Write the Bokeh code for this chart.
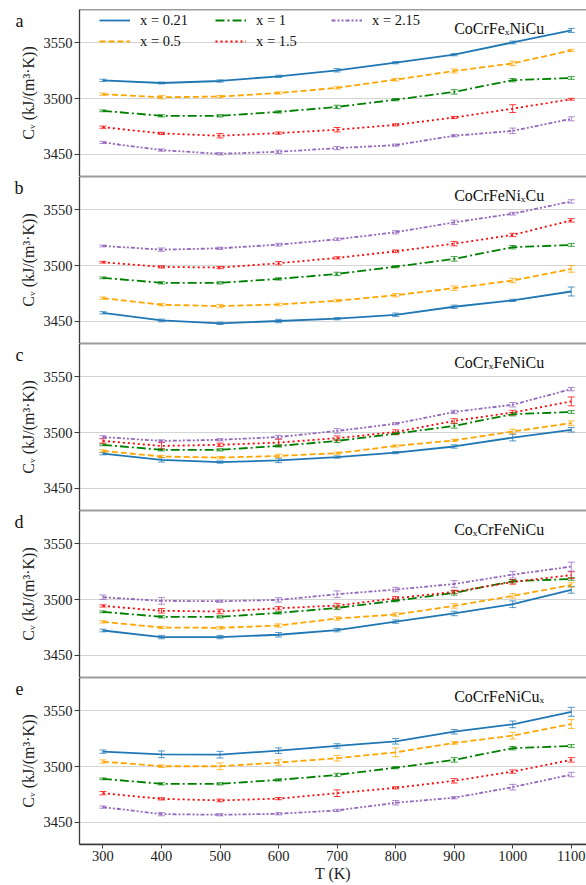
from bokeh.plotting import figure
from bokeh.models import (ColumnDataSource, Whisker, TeeHead, Legend, LegendItem,
                          Label, Range1d, FixedTicker, Span, LinearAxis)
from bokeh.layouts import column
from bokeh.embed import file_html
from bokeh.resources import INLINE

# ---------------- data ----------------
T = [300, 400, 500, 600, 700, 800, 900, 1000, 1100]
x_values = ["0.21", "0.5", "1", "1.5", "2.15"]
panel_letters = ["a", "b", "c", "d", "e"]
panel_titles = ["CoCrFeₓNiCu", "CoCrFeNiₓCu", "CoCrₓFeNiCu", "CoₓCrFeNiCu", "CoCrFeNiCuₓ"]
y_ticks = [3450, 3500, 3550]
x_ticks = [300, 400, 500, 600, 700, 800, 900, 1000, 1100]

# equimolar alloy (x = 1) is shared by every panel
cv_x1 = [3489, 3484.5, 3484.5, 3488, 3492.5, 3499, 3506, 3516.5, 3518.5]
err_x1 = [0.8, 1, 1, 1, 1.5, 1, 2, 1.5, 1.2]

# panel a: CoCrFe_xNiCu
a_cv_021 = [3516.4, 3514, 3515.8, 3520, 3525.4, 3532.2, 3539.4, 3550.4, 3561.2]
a_err_021 = [1, 0.8, 1, 1, 1.5, 1, 1, 1.2, 1.8]
a_cv_05 = [3503.9, 3501.2, 3501.8, 3505, 3509.6, 3517, 3524.8, 3531.6, 3543.3]
a_err_05 = [1, 1.5, 1, 1, 1, 1.2, 1.8, 2, 1]
a_cv_15 = [3474.3, 3468.7, 3466.6, 3469, 3472, 3476.4, 3483, 3491, 3499.4]
a_err_15 = [1, 1, 2, 1, 2, 1, 1, 3.5, 0.8]
a_cv_215 = [3460.6, 3453.7, 3450.4, 3452.2, 3455.5, 3458.2, 3466.6, 3471, 3481.8]
a_err_215 = [1, 1, 1, 1.5, 1.5, 1, 1, 2.5, 1.8]

# panel b: CoCrFeNi_xCu
b_cv_021 = [3457.6, 3450.7, 3448.1, 3450.2, 3452.3, 3455.8, 3463, 3468.7, 3476.7]
b_err_021 = [1, 1.2, 1, 1.5, 1, 1.5, 1.5, 1, 4]
b_cv_05 = [3470.7, 3464.8, 3463.6, 3465.1, 3468.4, 3473.4, 3479.7, 3486.6, 3497]
b_err_05 = [1, 1, 1.5, 1.2, 1, 1.5, 2, 2, 3]
b_cv_15 = [3503, 3498.8, 3498.2, 3502.1, 3506.9, 3512.8, 3519.7, 3527.5, 3540.6]
b_err_15 = [0.8, 1, 1, 1.5, 1, 1.2, 2, 1.5, 1.5]
b_cv_215 = [3517.6, 3514.3, 3515.5, 3518.8, 3523.6, 3529.9, 3538.8, 3546.6, 3557.6]
b_err_215 = [0.8, 1.5, 1, 1.2, 1.2, 1.5, 2, 1.2, 1.5]

# panel c: CoCr_xFeNiCu
c_cv_021 = [3481, 3475.5, 3473.5, 3475, 3478, 3482, 3487.5, 3495.5, 3502.5]
c_err_021 = [1, 2, 1, 2, 1, 1, 1.5, 3, 2]
c_cv_05 = [3483.5, 3478.5, 3477.5, 3479, 3481.5, 3488, 3493, 3501, 3508.5]
c_err_05 = [1, 1, 1, 1.5, 1, 1, 1, 2, 2]
c_cv_15 = [3492.5, 3488, 3489, 3491, 3495, 3500.5, 3510.5, 3518, 3528]
c_err_15 = [2, 3, 1.5, 3, 2, 2, 2, 2, 4]
c_cv_215 = [3496, 3492.5, 3493.5, 3496, 3501.5, 3508, 3518.5, 3525, 3539]
c_err_215 = [1.2, 1, 1, 1.5, 2, 1, 1.5, 2, 1.5]

# panel d: Co_xCrFeNiCu
d_cv_021 = [3472.2, 3466.3, 3466.3, 3468.4, 3472.5, 3480.2, 3487.5, 3495.8, 3508.7]
d_err_021 = [1.2, 1.5, 1.5, 2, 1.5, 1.5, 2, 3, 3]
d_cv_05 = [3480, 3474.9, 3474.6, 3476.7, 3483, 3486.6, 3494.3, 3503.3, 3513.1]
d_err_05 = [1, 1, 1.2, 1.5, 1.5, 1.5, 2, 2, 2]
d_cv_15 = [3494.3, 3489.9, 3489.3, 3492.2, 3494.6, 3501.2, 3506.9, 3515.8, 3522]
d_err_15 = [1, 2, 2, 1.5, 2, 1.5, 1.5, 2, 3]
d_cv_215 = [3502.1, 3498.8, 3498.5, 3499.7, 3504.8, 3509, 3514, 3522.4, 3529.6]
d_err_215 = [2, 3, 1, 2, 3, 2, 3, 3, 4]

# panel e: CoCrFeNiCu_x
e_cv_021 = [3513.4, 3511, 3510.7, 3514.3, 3518.5, 3522.7, 3531.3, 3537.9, 3549.2]
e_err_021 = [1.5, 3, 3, 2.5, 2, 2.5, 2, 3, 4]
e_cv_05 = [3504.5, 3500.3, 3500.3, 3503.6, 3507.5, 3512.8, 3521.2, 3527.8, 3538.2]
e_err_05 = [1.5, 1.2, 3, 2.5, 2.5, 4, 1.2, 3, 4]
e_cv_15 = [3476.1, 3471, 3469.6, 3471.2, 3476.1, 3480.9, 3487.2, 3495.5, 3506]
e_err_15 = [1.5, 1, 1.2, 1, 3, 1, 2, 1.5, 2]
e_cv_215 = [3463.6, 3457.3, 3456.7, 3457.6, 3460.6, 3467.5, 3472, 3481.5, 3492.8]
e_err_215 = [1, 1.5, 1, 1, 1, 2, 1, 2.5, 2]

panels = [
    [(a_cv_021, a_err_021), (a_cv_05, a_err_05), (cv_x1, err_x1), (a_cv_15, a_err_15), (a_cv_215, a_err_215)],
    [(b_cv_021, b_err_021), (b_cv_05, b_err_05), (cv_x1, err_x1), (b_cv_15, b_err_15), (b_cv_215, b_err_215)],
    [(c_cv_021, c_err_021), (c_cv_05, c_err_05), (cv_x1, err_x1), (c_cv_15, c_err_15), (c_cv_215, c_err_215)],
    [(d_cv_021, d_err_021), (d_cv_05, d_err_05), (cv_x1, err_x1), (d_cv_15, d_err_15), (d_cv_215, d_err_215)],
    [(e_cv_021, e_err_021), (e_cv_05, e_err_05), (cv_x1, err_x1), (e_cv_15, e_err_15), (e_cv_215, e_err_215)],
]

# ---------------- styles ----------------
colors = ["#1f77b4", "#ffa500", "#008000", "#ff0000", "#9467bd"]
dashes = ["solid", "6 3", "9 3 2 3", "2 3", "4 2 2 2 2 2"]
SERIF = "Liberation Serif"
SPINE = "#3a3a3a"

X0, X1 = 260, 1126
Y0, Y1 = 3430, 3580
LETTER_Y = 3570  # vertical anchor of the panel letter, near the panel top

figs = []
for i in range(5):
    first = i == 0
    last = i == 4
    h = 167 + (9 if first else 0) + (41 if last else 0)
    p = figure(width=586, height=h, output_backend="svg", toolbar_location=None,
               x_range=Range1d(X0, X1), y_range=Range1d(Y0, Y1),
               min_border_left=79, min_border_right=0,
               min_border_top=9 if first else 0,
               min_border_bottom=41 if last else 0)
    p.outline_line_color = None
    p.xgrid.visible = False
    p.ygrid.grid_line_color = "#d4d4d4"
    p.ygrid.grid_line_width = 1
    p.ygrid.ticker = FixedTicker(ticks=y_ticks)

    # spines
    p.add_layout(Span(location=Y1, dimension="width", line_color=SPINE, line_width=1.3))
    p.add_layout(Span(location=Y0, dimension="width", line_color=SPINE, line_width=1.3))

    yax = p.yaxis[0]
    yax.ticker = FixedTicker(ticks=y_ticks)
    yax.axis_line_color = SPINE
    yax.axis_line_width = 1.3
    yax.major_tick_line_color = SPINE
    yax.major_tick_out = 5
    yax.major_tick_in = 0
    yax.minor_tick_line_color = None
    yax.major_label_standoff = 2
    yax.major_label_text_font = SERIF
    yax.major_label_text_font_size = "14.5px"
    yax.major_label_text_color = "#222222"
    yax.axis_label = "Cᵥ (kJ/(m³·K))"
    yax.axis_label_text_font = SERIF
    yax.axis_label_text_font_size = "16px"
    yax.axis_label_text_font_style = "normal"
    yax.axis_label_text_color = "#222222"
    yax.axis_label_standoff = 4

    # panel letter, drawn as the single label of an outer, otherwise invisible axis
    letter_axis = LinearAxis(ticker=FixedTicker(ticks=[LETTER_Y]),
                             major_label_overrides={LETTER_Y: panel_letters[i]},
                             axis_line_color=None, major_tick_line_color=None,
                             minor_tick_line_color=None, major_tick_out=0, major_tick_in=0,
                             major_label_standoff=-7,
                             major_label_text_font=SERIF,
                             major_label_text_font_size="18px",
                             major_label_text_color="#111111")
    p.add_layout(letter_axis, "left")

    xax = p.xaxis[0]
    if last:
        xax.ticker = FixedTicker(ticks=x_ticks)
        xax.axis_line_color = SPINE
        xax.axis_line_width = 1.3
        xax.major_tick_line_color = SPINE
        xax.major_tick_out = 4
        xax.major_tick_in = 0
        xax.minor_tick_line_color = None
        xax.major_label_standoff = 2
        xax.major_label_text_font = SERIF
        xax.major_label_text_font_size = "14.5px"
        xax.major_label_text_color = "#222222"
        xax.axis_label = "T (K)"
        xax.axis_label_text_font = SERIF
        xax.axis_label_text_font_size = "16px"
        xax.axis_label_text_font_style = "normal"
        xax.axis_label_text_color = "#222222"
        xax.axis_label_standoff = 1
    else:
        xax.visible = False

    renderers = []
    for k, (cv, err) in enumerate(panels[i]):
        src = ColumnDataSource(dict(
            T=T, cv=cv,
            lo=[c - e for c, e in zip(cv, err)],
            hi=[c + e for c, e in zip(cv, err)],
        ))
        r = p.line("T", "cv", source=src, line_color=colors[k], line_width=1.8,
                   line_dash=dashes[k])
        renderers.append(r)
        w = Whisker(base="T", lower="lo", upper="hi", source=src,
                    line_color=colors[k], line_alpha=0.75, line_width=1,
                    upper_head=TeeHead(size=7, line_color=colors[k], line_alpha=0.75, line_width=1),
                    lower_head=TeeHead(size=7, line_color=colors[k], line_alpha=0.75, line_width=1))
        p.add_layout(w)

    p.add_layout(Label(x=900, y=3563, text=panel_titles[i], text_baseline="middle",
                       text_font=SERIF, text_font_size="16px", text_color="#111111"))

    if first:
        items = [LegendItem(label="x = " + x_values[k], renderers=[renderers[k]]) for k in range(5)]
        leg = Legend(items=items, orientation="vertical", nrows=2,
                     location=(20, 125), padding=0, margin=0, spacing=1,
                     glyph_width=31, glyph_height=20, label_height=20,
                     label_width=74, label_standoff=10,
                     label_text_font=SERIF, label_text_font_size="14.5px",
                     label_text_color="#111111",
                     border_line_color=None, background_fill_alpha=0)
        p.add_layout(leg)
    figs.append(p)

layout = column(*figs, spacing=0)
open("out.html", "w").write(file_html(layout, INLINE))
